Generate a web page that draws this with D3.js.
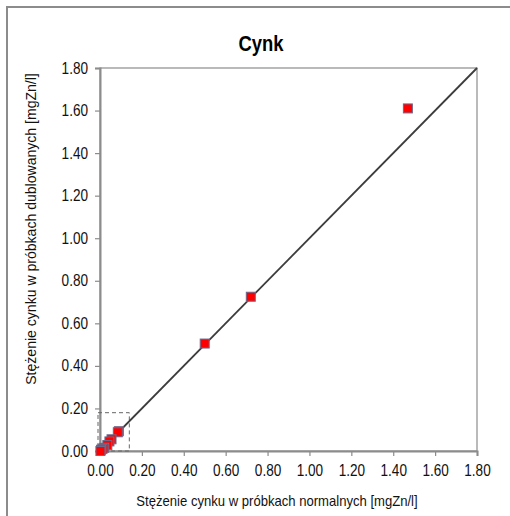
<!DOCTYPE html>
<html><head><meta charset="utf-8">
<script src="https://cdn.jsdelivr.net/npm/d3@7"></script>
<style>body{margin:0;background:#fff}svg{display:block}text{font-family:"Liberation Sans",Arial,sans-serif}</style>
</head><body>
<script>
const title = "Cynk";
const xLabel = "Stężenie cynku w próbkach normalnych [mgZn/l]";
const yLabel = "Stężenie cynku w próbkach dublowanych  [mgZn/l]";
const tickValues = [0, 0.2, 0.4, 0.6, 0.8, 1.0, 1.2, 1.4, 1.6, 1.8];
const normalValues =    [1.47, 0.72, 0.50, 0.09, 0.085, 0.055, 0.045, 0.035, 0.02, 0.012, 0.005, 0.002];
const duplicateValues = [1.61, 0.725, 0.505, 0.093, 0.088, 0.055, 0.045, 0.028, 0.015, 0.01, 0.006, 0.0];
const zoomBox = {x0: 0, x1: 0.14, y0: 0, y1: 0.18};

const W = 510, H = 516;
const svg = d3.select("body").append("svg").attr("width", W).attr("height", H);
svg.append("rect").attr("x", 7).attr("y", 7).attr("width", W + 10).attr("height", H + 10)
  .attr("fill", "none").attr("stroke", "#8c8c8c").attr("stroke-width", 2);

const x = d3.scaleLinear().domain([0, 1.8]).range([100, 477]);
const y = d3.scaleLinear().domain([0, 1.8]).range([451, 68]);

svg.append("rect").attr("x", x(0)).attr("y", y(1.8)).attr("width", x(1.8) - x(0)).attr("height", y(0) - y(1.8))
  .attr("fill", "none").attr("stroke", "#8c8c8c").attr("stroke-width", 1.2);

const xAxis = svg.append("g").attr("transform", `translate(0,${y(0)})`)
  .call(d3.axisBottom(x).tickValues(tickValues).tickFormat(d3.format(".2f")).tickSize(5).tickPadding(9));
const yAxis = svg.append("g").attr("transform", `translate(${x(0)},0)`)
  .call(d3.axisLeft(y).tickValues(tickValues).tickFormat(d3.format(".2f")).tickSize(5).tickPadding(7));
[xAxis, yAxis].forEach(g => {
  g.select(".domain").attr("stroke", "#8c8c8c").attr("stroke-width", 2);
  g.selectAll(".tick line").attr("stroke", "#8c8c8c").attr("stroke-width", 1.2);
  g.selectAll(".tick text").attr("font-size", 14).attr("fill", "#111")
   .attr("font-family", "'Liberation Sans', Arial, sans-serif");
});
xAxis.selectAll(".tick text").each(function() {
  const t = d3.select(this); const yy = +t.attr("y");
  t.attr("y", null).attr("transform", `translate(0,${yy}) scale(0.97,1.12)`);
});
yAxis.selectAll(".tick text").each(function() {
  const t = d3.select(this); const xx = +t.attr("x");
  t.attr("x", null).attr("transform", `translate(${xx},0) scale(0.97,1.12)`);
});

svg.append("rect").attr("x", x(zoomBox.x0) - 2).attr("y", y(zoomBox.y1))
  .attr("width", x(zoomBox.x1) - x(zoomBox.x0) + 2).attr("height", y(zoomBox.y0) - y(zoomBox.y1))
  .attr("fill", "none").attr("stroke", "#666").attr("stroke-width", 1).attr("stroke-dasharray", "4,3");

svg.append("line").attr("x1", x(0)).attr("y1", y(0)).attr("x2", x(1.8)).attr("y2", y(1.8))
  .attr("stroke", "#3c3c3c").attr("stroke-width", 1.8);

const pts = normalValues.map((v, i) => [v, duplicateValues[i]]);
svg.append("g").selectAll("rect").data(pts).join("rect")
  .attr("x", d => x(d[0]) - 4.5).attr("y", d => y(d[1]) - 4.5)
  .attr("width", 9).attr("height", 9)
  .attr("fill", "#ff0000").attr("stroke", "#6b6b8e").attr("stroke-width", 1);

svg.append("text").attr("transform", "translate(261,51) scale(0.97,1.12)").attr("text-anchor", "middle")
  .attr("font-size", 19).attr("font-weight", "bold").attr("fill", "#000").text(title);
svg.append("text").attr("transform", "translate(277,506) scale(0.97,1.12)").attr("text-anchor", "middle")
  .attr("font-size", 13.5).attr("fill", "#111").text(xLabel);
svg.append("text").attr("transform", "translate(36,229) rotate(-90) scale(1.05,1.05)").attr("text-anchor", "middle")
  .attr("font-size", 13.4).attr("fill", "#111").text(yLabel);
</script>
</body></html>
